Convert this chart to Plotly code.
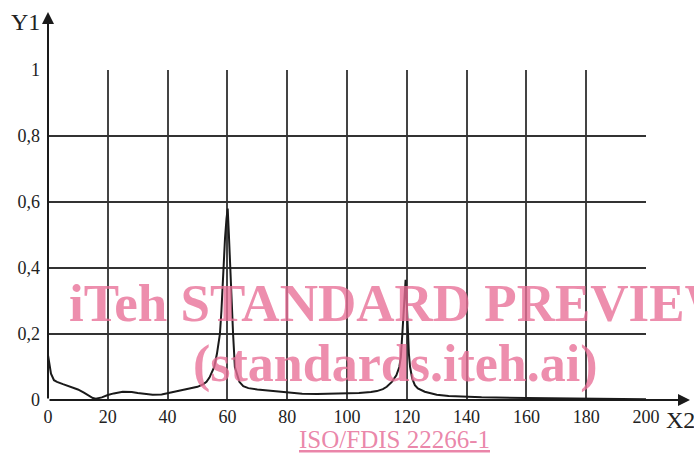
import plotly.graph_objects as go

# Curve values
x_vals = [0, 0.5, 1, 2, 3, 5, 8, 10, 12, 14, 15, 16, 17, 18, 20, 22, 25, 28, 30, 33, 35, 38, 40, 43, 46,
          48, 50, 52, 53, 54, 55, 55.6, 56.5, 57.5, 58, 58.6, 59.2, 59.7, 60.1, 60.5, 60.9, 61.4, 61.9,
          62.5, 63.2, 64, 65.3, 67, 70, 75, 80, 85, 90, 95, 100, 104, 108, 110, 112, 113.3, 115, 116.5,
          117.5, 118, 118.5, 119, 119.6, 120, 120.3, 120.7, 121.1, 121.8, 122.7, 123.7, 126, 130, 134,
          137.8, 145, 160, 180, 200]
y_vals = [0.136, 0.10, 0.08, 0.06, 0.055, 0.048, 0.038, 0.032, 0.022, 0.012, 0.006, 0.004, 0.005, 0.008,
          0.015, 0.020, 0.025, 0.024, 0.021, 0.017, 0.016, 0.017, 0.021, 0.027, 0.032,
          0.035, 0.040, 0.048, 0.055, 0.068, 0.085, 0.10, 0.14, 0.20, 0.27, 0.40, 0.49, 0.55, 0.58, 0.50,
          0.40, 0.29, 0.20, 0.10, 0.075, 0.055, 0.042, 0.036, 0.032, 0.027, 0.022, 0.019, 0.018, 0.019,
          0.020, 0.021, 0.024, 0.027, 0.033, 0.040, 0.055, 0.075, 0.10, 0.13, 0.20, 0.27, 0.364, 0.29,
          0.20, 0.14, 0.10, 0.065, 0.045, 0.035, 0.025, 0.016, 0.012, 0.010, 0.008, 0.006, 0.004, 0.002]

x_ticks = [0, 20, 40, 60, 80, 100, 120, 140, 160, 180, 200]
y_ticks = [0, 0.2, 0.4, 0.6, 0.8, 1]
y_tick_labels = ["0", "0,2", "0,4", "0,6", "0,8", "1"]

x_label = "X2"
y_label = "Y1"
watermark_1 = "iTeh STANDARD PREVIEW"
watermark_2 = "(standards.iteh.ai)"
footer = "ISO/FDIS 22266-1"

FONT = "Liberation Serif"
PINK = "rgba(232,110,150,0.78)"

L, T, PW, PH = 48, 70, 598, 330


def px(xp):
    return (xp - L) / PW


def py(yp):
    return (T + PH - yp) / PH


fig = go.Figure()
fig.add_trace(go.Scatter(x=x_vals, y=y_vals, mode="lines",
                         line=dict(color="#1a1a1a", width=2), hoverinfo="skip", showlegend=False))

fig.update_layout(
    width=694, height=453,
    margin=dict(l=L, r=694 - L - PW, t=T, b=453 - T - PH),
    paper_bgcolor="white", plot_bgcolor="white",
    showlegend=False,
    xaxis=dict(range=[0, 200], tickvals=x_ticks, ticks="", showline=False, zeroline=False,
               showgrid=True, gridcolor="#444", gridwidth=1.5, automargin=False,
               tickfont=dict(family=FONT, size=18, color="#222"), ticklabelstandoff=4),
    yaxis=dict(range=[0, 1], tickvals=y_ticks, ticktext=y_tick_labels, ticks="",
               showline=False, zeroline=False, showgrid=True, gridcolor="#333", gridwidth=2,
               automargin=False,
               tickfont=dict(family=FONT, size=18, color="#222"), ticklabelstandoff=7),
)

# Axes with arrows
fig.add_annotation(xref="paper", yref="paper", x=0, y=py(12), ax=0, ay=388,
                   text="", showarrow=True,
                   arrowhead=2, arrowsize=1.2, arrowwidth=2, arrowcolor="#1a1a1a")
fig.add_annotation(xref="paper", yref="paper", x=px(690), y=0, ax=-642, ay=0,
                   text="", showarrow=True,
                   arrowhead=2, arrowsize=1.2, arrowwidth=2, arrowcolor="#1a1a1a")

# Axis labels
fig.add_annotation(xref="paper", yref="paper", x=px(25), y=py(22), xanchor="center", yanchor="middle",
                   text=y_label, showarrow=False, font=dict(family=FONT, size=24, color="#222"))
fig.add_annotation(xref="paper", yref="paper", x=px(680), y=py(420), xanchor="center", yanchor="middle",
                   text=x_label, showarrow=False, font=dict(family=FONT, size=24, color="#222"))

# Watermark
fig.add_annotation(xref="paper", yref="paper", x=px(67), y=py(303), xanchor="left", yanchor="middle",
                   text="<b>" + watermark_1 + "</b>", showarrow=False,
                   font=dict(family=FONT, size=53, color=PINK))
fig.add_annotation(xref="paper", yref="paper", x=px(395), y=py(364), xanchor="center", yanchor="middle",
                   text="<b>" + watermark_2 + "</b>", showarrow=False,
                   font=dict(family=FONT, size=52, color=PINK))
fig.add_annotation(xref="paper", yref="paper", x=px(395), y=py(440), xanchor="center", yanchor="middle",
                   text="<u>" + footer + "</u>", showarrow=False,
                   font=dict(family=FONT, size=25, color="rgba(232,120,160,0.9)"))

fig.write_html("out.html", config={"displayModeBar": False},
               post_script="document.body.style.margin='0px';")
